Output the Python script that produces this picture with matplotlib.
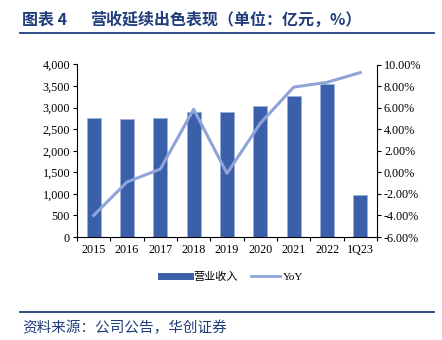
import matplotlib
matplotlib.use("Agg")
import matplotlib.pyplot as plt
from matplotlib.ticker import FuncFormatter, MultipleLocator
from matplotlib.lines import Line2D
import numpy as np

categories = ["2015", "2016", "2017", "2018", "2019", "2020", "2021", "2022", "1Q23"]
revenue = [2770, 2740, 2750, 2900, 2900, 3040, 3280, 3550, 970]
yoy = [-4.0, -0.9, 0.3, 5.85, -0.1, 4.55, 7.9, 8.35, 9.25]

bar_color = "#3A60A9"
line_color = "#8FA4D9"
title_color = "#1F3D7A"

plt.rcParams['font.family'] = ['Liberation Serif', 'Noto Sans CJK SC', 'DejaVu Sans']

fig = plt.figure(figsize=(4.42, 3.40), dpi=100)
ax = fig.add_axes([77/442, 1 - 237/340, (377 - 77)/442, (237 - 64.5)/340])
x = np.arange(len(categories))
ax.bar(x, revenue, width=0.42, color=bar_color, edgecolor="#9DB0DA", linewidth=0.6, zorder=2)
ax.set_xlim(-0.5, len(categories) - 0.5)
ax.set_ylim(0, 4000)
ax.yaxis.set_major_locator(MultipleLocator(500))
ax.yaxis.set_major_formatter(FuncFormatter(lambda v, p: f"{int(v):,}"))
ax.set_xticks(x)
ax.set_xticklabels(categories)
ax.set_xticks(np.arange(-0.5, len(categories), 1), minor=True)
ax.tick_params(axis='x', which='major', length=0, labelsize=8.7, pad=5)
ax.tick_params(axis='x', which='minor', length=3, direction='out', width=0.8)
ax.tick_params(axis='y', labelsize=8.7, length=3, direction='out', width=0.8, pad=2)
for s in ['top', 'right']:
    ax.spines[s].set_visible(False)
for s in ['left', 'bottom']:
    ax.spines[s].set_linewidth(0.8)

ax2 = ax.twinx()
ax2.plot(x, yoy, color=line_color, linewidth=2.2, zorder=3)
ax2.set_ylim(-6, 10)
ax2.yaxis.set_major_locator(MultipleLocator(2))
ax2.yaxis.set_major_formatter(FuncFormatter(lambda v, p: f"{v:.2f}%"))
ax2.tick_params(axis='y', labelsize=8.7, length=3, direction='out', width=0.8, pad=2)
for s in ['top', 'left', 'bottom']:
    ax2.spines[s].set_visible(False)
ax2.spines['right'].set_linewidth(0.8)

handles = [Line2D([0], [0], color=bar_color, linewidth=5),
           Line2D([0], [0], color=line_color, linewidth=2)]
fig.legend(handles, ["营业收入", "YoY"], loc='center', bbox_to_anchor=(232/442, 1 - 277/340),
           ncol=2, frameon=False, handlelength=2.6, columnspacing=1.2,
           handletextpad=0.3, prop={'family': ['Liberation Serif', 'Noto Sans CJK SC'], 'size': 8})

fig.text(22/442, 1 - 20/340, "图表 4", fontsize=11.5,
         fontweight='bold', color=title_color, va='center', ha='left',
         family=['Noto Sans CJK SC', 'DejaVu Sans'])
fig.text(90/442, 1 - 20/340, "营收延续出色表现（单位：亿元，%）", fontsize=11.5,
         fontweight='bold', color=title_color, va='center', ha='left',
         family=['Noto Sans CJK SC', 'DejaVu Sans'])
fig.add_artist(Line2D([20/442, 434/442], [1 - 33/340, 1 - 33/340], color=title_color, linewidth=1.3))
fig.add_artist(Line2D([20/442, 434/442], [1 - 311.5/340, 1 - 311.5/340], color=title_color, linewidth=1.3))
fig.text(22/442, 1 - 328/340, "资料来源：公司公告，华创证券", fontsize=10.5, style='italic',
         color=title_color, va='center', ha='left', family=['Noto Sans CJK SC', 'DejaVu Sans'])

fig.savefig("out.png", dpi=100)
